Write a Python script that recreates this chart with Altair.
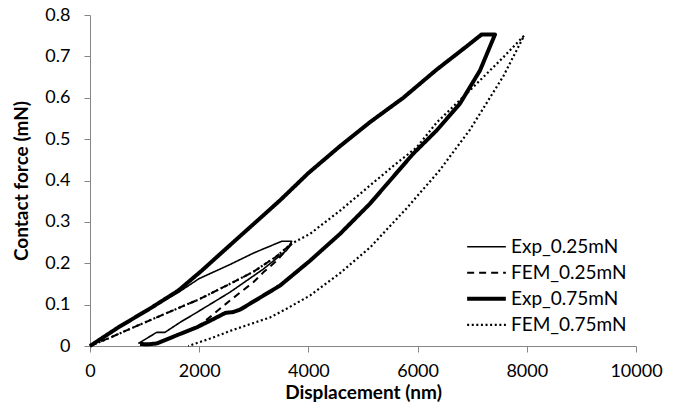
import altair as alt
import pandas as pd

series_names = ["Exp_0.25mN", "FEM_0.25mN", "Exp_0.75mN", "FEM_0.75mN"]

# Experimental curve, 0.25 mN peak load (loading, hold, unloading)
exp025_x = [0, 519, 1129, 1600, 2000, 2550, 3000, 3510, 3694, 3600, 3175, 2564, 1954, 1648, 1373, 1221, 885]
exp025_y = [0, 0.045, 0.093, 0.128, 0.163, 0.196, 0.225, 0.253, 0.253, 0.231, 0.186, 0.13, 0.081, 0.057, 0.033, 0.033, 0.006]

# Experimental curve, 0.75 mN peak load
exp075_x = [0, 519, 1129, 1618, 2045, 2600, 3100, 3480, 4000, 4579, 5128, 5739, 6349, 6837, 7174,
            7418, 7143, 6777, 6349, 5921, 5495, 5128, 4579, 4274, 4029, 3480, 2750, 2620, 2480, 2259,
            1954, 1648, 1221, 1050, 916]
exp075_y = [0, 0.045, 0.093, 0.134, 0.182, 0.248, 0.307, 0.352, 0.418, 0.483, 0.541, 0.600, 0.668, 0.718, 0.753,
            0.753, 0.666, 0.586, 0.521, 0.465, 0.40, 0.344, 0.271, 0.235, 0.206, 0.146, 0.088, 0.082, 0.080, 0.065,
            0.045, 0.029, 0.006, 0.004, 0.005]

# FEM loading branch shared by both simulations
fem_load_x = [0, 400, 900, 1500, 2000, 2500, 3000, 3400, 3700]
fem_load_y = [0, 0.022, 0.051, 0.085, 0.113, 0.146, 0.18, 0.215, 0.248]

# FEM, 0.25 mN unloading
fem025_unload_x = [3419, 3175, 2991, 2564, 2076, 1950]
fem025_unload_y = [0.206, 0.178, 0.154, 0.11, 0.057, 0.045]

# FEM, 0.75 mN: loading continued to peak, then unloading
fem075_load_x = [4029, 4579, 5128, 5600, 5983, 6349, 6960, 7570, 7950]
fem075_load_y = [0.271, 0.327, 0.388, 0.44, 0.48, 0.54, 0.618, 0.698, 0.75]
fem075_unload_x = [7570, 6960, 6400, 5800, 5128, 4579, 4029, 3600, 3297, 2600, 2200, 1800]
fem075_unload_y = [0.652, 0.523, 0.424, 0.333, 0.238, 0.176, 0.122, 0.09, 0.069, 0.038, 0.018, 0.0]

x_ticks = [0, 2000, 4000, 6000, 8000, 10000]
y_ticks = [0, 0.1, 0.2, 0.3, 0.4, 0.5, 0.6, 0.7, 0.8]

paths = {
    "Exp_0.25mN": (exp025_x, exp025_y),
    "FEM_0.25mN": (fem_load_x + fem025_unload_x, fem_load_y + fem025_unload_y),
    "Exp_0.75mN": (exp075_x, exp075_y),
    "FEM_0.75mN": (fem_load_x + fem075_load_x + fem075_unload_x,
                   fem_load_y + fem075_load_y + fem075_unload_y),
}

rows = []
for name in series_names:
    xs, ys = paths[name]
    for i, (xv, yv) in enumerate(zip(xs, ys)):
        rows.append({"series": name, "disp": xv, "force": yv, "seq": i})
df = pd.DataFrame(rows)

FONT = "Lato"
AXIS_GRAY = "#868686"

legend_opts = dict(
    title=None,
    orient="none",
    legendX=375,
    legendY=219,
    symbolType="stroke",
    symbolSize=1500,
    symbolStrokeColor="black",
    labelFont=FONT,
    labelFontSize=19,
    labelColor="black",
    labelOffset=3,
    clipHeight=25.6,
    rowPadding=0,
    padding=0,
)

chart = (
    alt.Chart(df)
    .mark_line(color="black", strokeCap="butt", strokeJoin="round")
    .encode(
        x=alt.X(
            "disp:Q",
            scale=alt.Scale(domain=[0, 10000], nice=False),
            axis=alt.Axis(values=x_ticks, format="d", title="Displacement (nm)"),
        ),
        y=alt.Y(
            "force:Q",
            scale=alt.Scale(domain=[0, 0.8], nice=False),
            axis=alt.Axis(values=y_ticks, format=".1~f", title="Contact force (mN)"),
        ),
        detail="series:N",
        order="seq:Q",
        strokeDash=alt.StrokeDash(
            "series:N",
            sort=series_names,
            scale=alt.Scale(domain=series_names, range=[[1, 0], [7, 5], [1, 0], [2, 2.6]]),
            legend=alt.Legend(**legend_opts),
        ),
        strokeWidth=alt.StrokeWidth(
            "series:N",
            sort=series_names,
            scale=alt.Scale(type="ordinal", domain=series_names, range=[1.6, 2, 4, 2.2]),
            legend=alt.Legend(**legend_opts),
        ),
    )
    .properties(
        width=546,
        height=331,
        autosize=alt.AutoSizeParams(type="none"),
        padding={"left": 90, "top": 15, "right": 41, "bottom": 62},
    )
    .configure_view(stroke=None)
    .configure_axis(
        grid=False,
        domainColor=AXIS_GRAY,
        domainWidth=1,
        tickColor=AXIS_GRAY,
        tickSize=6,
        labelFlush=False,
        labelFont=FONT,
        labelFontSize=18,
        labelColor="black",
        titleFont=FONT,
        titleFontSize=19,
        titleFontWeight="bold",
        titleColor="black",
    )
    .configure_axisY(labelPadding=14, titlePadding=13)
    .configure_axisX(labelPadding=10, titlePadding=3)
)

chart.save("out.html", embed_options={"renderer": "svg", "actions": False})
